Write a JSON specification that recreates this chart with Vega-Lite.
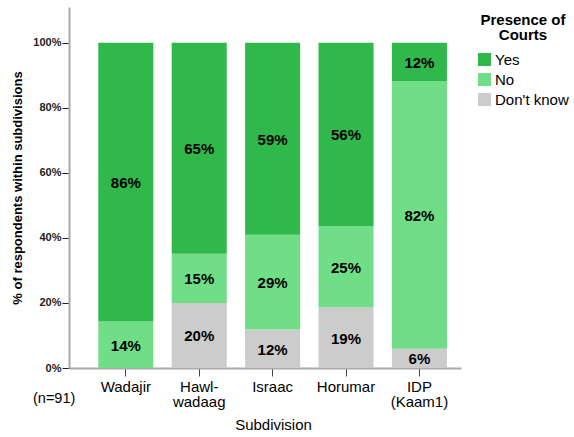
{
  "$schema": "https://vega.github.io/schema/vega-lite/v6.json",
  "width": 392,
  "height": 361,
  "autosize": {"type": "none"},
  "padding": {"left": 69, "top": 7, "right": 113, "bottom": 69},
  "background": "white",
  "config": {"view": {"stroke": null}, "font": "Liberation Sans"},
  "title": {"text": "(n=91)", "orient": "bottom", "anchor": "start", "frame": "group", "fontSize": 14.5, "fontWeight": "normal", "color": "black", "dx": -36, "dy": -40, "offset": 0},
  "data": {
    "values": [
      {"sub": "Wadajir", "resp": "No", "pct": 0.143},
      {"sub": "Wadajir", "resp": "Yes", "pct": 0.857},
      {"sub": "Hawl-wadaag", "resp": "Don't know", "pct": 0.200},
      {"sub": "Hawl-wadaag", "resp": "No", "pct": 0.151},
      {"sub": "Hawl-wadaag", "resp": "Yes", "pct": 0.649},
      {"sub": "Israac", "resp": "Don't know", "pct": 0.118},
      {"sub": "Israac", "resp": "No", "pct": 0.292},
      {"sub": "Israac", "resp": "Yes", "pct": 0.590},
      {"sub": "Horumar", "resp": "Don't know", "pct": 0.187},
      {"sub": "Horumar", "resp": "No", "pct": 0.249},
      {"sub": "Horumar", "resp": "Yes", "pct": 0.564},
      {"sub": "IDP (Kaam1)", "resp": "Don't know", "pct": 0.059},
      {"sub": "IDP (Kaam1)", "resp": "No", "pct": 0.823},
      {"sub": "IDP (Kaam1)", "resp": "Yes", "pct": 0.118}
    ]
  },
  "transform": [
    {"stack": "pct", "groupby": ["sub"], "sort": [{"field": "resp", "order": "ascending"}], "as": ["p0", "p1"]},
    {"calculate": "(datum.p0 + datum.p1) / 2", "as": "pm"}
  ],
  "encoding": {
    "x": {
      "field": "sub",
      "type": "nominal",
      "sort": ["Wadajir", "Hawl-wadaag", "Israac", "Horumar", "IDP (Kaam1)"],
      "scale": {"paddingInner": 0.25, "paddingOuter": 0.295, "align": 0.676},
      "axis": {
        "title": "Subdivision",
        "titleFontSize": 15,
        "titleFontWeight": "normal",
        "titleColor": "black",
        "titleX": 204,
        "titlePadding": 8,
        "labelAngle": 0,
        "labelFontSize": 15,
        "labelColor": "black",
        "labelLineHeight": 15,
        "labelPadding": 3,
        "labelExpr": "datum.label == 'Hawl-wadaag' ? ['Hawl-', 'wadaag'] : datum.label == 'IDP (Kaam1)' ? ['IDP', '(Kaam1)'] : datum.label",
        "tickColor": "#444444",
        "tickSize": 8,
        "domainColor": "#aaaaaa",
        "domainWidth": 2,
        "grid": false
      }
    }
  },
  "layer": [
    {
      "mark": {"type": "bar"},
      "encoding": {
        "y": {
          "field": "p0",
          "type": "quantitative",
          "scale": {"domain": [0, 1.11], "nice": false},
          "axis": {
            "values": [0, 0.2, 0.4, 0.6, 0.8, 1.0],
            "format": ".0%",
            "title": "% of respondents within subdivisions",
            "titleFontSize": 13,
            "titleFontWeight": "bold",
            "titleColor": "black",
            "titlePadding": 8,
            "labelFontSize": 11,
            "labelFontWeight": "bold",
            "labelColor": "#222222",
            "labelPadding": 1,
            "tickColor": "#222222",
            "tickSize": 7,
            "domainColor": "#aaaaaa",
            "domainWidth": 2,
            "grid": false
          }
        },
        "y2": {"field": "p1"},
        "color": {
          "field": "resp",
          "type": "nominal",
          "scale": {"domain": ["Yes", "No", "Don't know"], "range": ["#30b84b", "#70dd87", "#cccccc"]},
          "legend": {
            "title": ["Presence of", "Courts"],
            "orient": "none",
            "legendX": 408,
            "legendY": 6,
            "titleFontSize": 15,
            "titleFontWeight": "bold",
            "titleColor": "black",
            "titleAnchor": "middle",
            "titleAlign": "center",
            "titleLineHeight": 15,
            "titlePadding": 9,
            "labelFontSize": 15,
            "labelColor": "black",
            "labelOffset": 3,
            "symbolType": "square",
            "symbolSize": 169,
            "symbolStrokeWidth": 0,
            "symbolOpacity": 1,
            "rowPadding": 4
          }
        }
      }
    },
    {
      "mark": {"type": "text", "fontSize": 15, "fontWeight": "bold", "baseline": "middle", "color": "black", "dy": 1},
      "encoding": {
        "y": {"field": "pm", "type": "quantitative"},
        "text": {"field": "pct", "type": "quantitative", "format": ".0%"}
      }
    }
  ]
}
